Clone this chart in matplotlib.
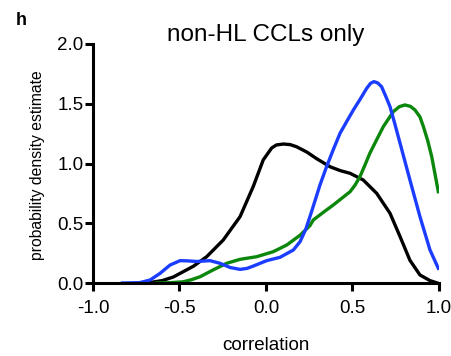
import numpy as np
import matplotlib
matplotlib.use('Agg')
import matplotlib.pyplot as plt

plt.rcParams['font.family'] = ['Liberation Sans', 'DejaVu Sans']

# curves (x = correlation, y = density)
black_x = [-0.69, -0.6, -0.536, -0.42, -0.343, -0.247, -0.15, -0.073, -0.016, 0.033, 0.06, 0.10, 0.14,
           0.177, 0.237, 0.293, 0.37, 0.43, 0.486, 0.562, 0.64, 0.717, 0.775, 0.832, 0.89, 0.948, 0.99]
black_y = [0.0, 0.02, 0.05, 0.14, 0.22, 0.36, 0.555, 0.81, 1.03, 1.13, 1.155, 1.163, 1.158,
           1.14, 1.095, 1.04, 0.973, 0.94, 0.918, 0.862, 0.75, 0.583, 0.388, 0.19, 0.067, 0.02, 0.0]

blue_x = [-0.83, -0.73, -0.67, -0.613, -0.555, -0.497, -0.45, -0.40, -0.324, -0.266, -0.208, -0.15, -0.11,
          -0.073, 0.004, 0.081, 0.158, 0.197, 0.23, 0.264, 0.312, 0.35, 0.39, 0.428, 0.466, 0.505, 0.545,
          0.582, 0.605, 0.624, 0.645, 0.668, 0.69, 0.717, 0.745, 0.775, 0.832, 0.89, 0.948, 0.996]
blue_y = [0.0, 0.003, 0.025, 0.08, 0.15, 0.187, 0.185, 0.18, 0.187, 0.165, 0.13, 0.114, 0.122,
          0.142, 0.187, 0.215, 0.276, 0.346, 0.45, 0.6, 0.82, 0.973, 1.12, 1.253, 1.35, 1.448, 1.54,
          1.629, 1.672, 1.685, 1.675, 1.643, 1.57, 1.475, 1.33, 1.169, 0.862, 0.555, 0.276, 0.123]

green_x = [-0.632, -0.55, -0.478, -0.43, -0.38, -0.305, -0.227, -0.15, -0.054, 0.042, 0.12, 0.197, 0.254,
           0.273, 0.33, 0.389, 0.486, 0.515, 0.543, 0.57, 0.60, 0.64, 0.678, 0.736, 0.77, 0.803, 0.835,
           0.861, 0.89, 0.91, 0.935, 0.958, 0.996]
green_y = [0.0, 0.003, 0.01, 0.028, 0.053, 0.11, 0.165, 0.198, 0.22, 0.262, 0.318, 0.40, 0.48,
           0.527, 0.59, 0.653, 0.764, 0.82, 0.89, 0.98, 1.085, 1.2, 1.308, 1.434, 1.475, 1.49, 1.478,
           1.448, 1.39, 1.308, 1.19, 1.057, 0.764]

x_ticks = [-1.0, -0.5, 0.0, 0.5, 1.0]
y_ticks = [0.0, 0.5, 1.0, 1.5, 2.0]

W, H = 452, 356
fig = plt.figure(figsize=(W / 100, H / 100), dpi=100)
ax = fig.add_axes([93 / W, 1 - 283 / H, 346 / W, 239 / H])

lw = 2.4
ax.plot(black_x, black_y, color='black', lw=lw, solid_joinstyle='round')
ax.plot(green_x, green_y, color='#0b870b', lw=lw, solid_joinstyle='round')
ax.plot(blue_x, blue_y, color='#1b3dff', lw=lw, solid_joinstyle='round')

ax.set_xlim(-1.0, 1.0)
ax.set_ylim(0.0, 2.0)
ax.set_xticks(x_ticks)
ax.set_yticks(y_ticks)
ax.set_xticklabels(['%.1f' % v for v in x_ticks])
ax.set_yticklabels(['%.1f' % v for v in y_ticks])

for s in ['top', 'right']:
    ax.spines[s].set_visible(False)
for s in ['left', 'bottom']:
    ax.spines[s].set_linewidth(2.2)
ax.tick_params(width=2.2, length=6, labelsize=13.5)
ax.tick_params(axis='y', pad=1)
ax.tick_params(axis='x', pad=6)

# labels placed by pixel position
fig.text(266 / W, 1 - 41.5 / H, 'non-HL CCLs only', fontsize=17.5, ha='center', va='baseline')
fig.text(266 / W, 1 - 350.5 / H, 'correlation', fontsize=13.5, ha='center', va='baseline')
fig.text(37.5 / W, 1 - 165 / H, 'probability density estimate', fontsize=11.3,
         rotation=90, ha='center', va='center')
fig.text(16 / W, 1 - 25 / H, 'h', fontsize=13, fontweight='bold', va='baseline')

fig.savefig('out.png', dpi=100)
